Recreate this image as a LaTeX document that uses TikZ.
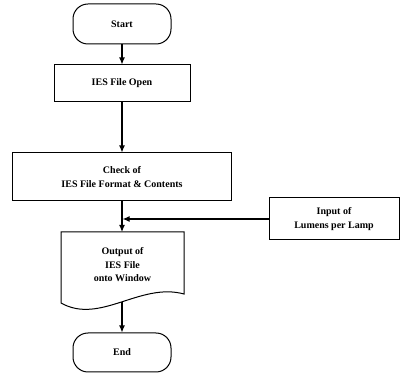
\documentclass[tikz,border=0pt]{standalone}
\usepackage{fontspec}
\setmainfont{Liberation Serif}
\usetikzlibrary{arrows.meta}
\begin{document}
\begin{tikzpicture}[x=1pt,y=-1pt,
  every node/.style={font=\fontsize{10}{13.5}\selectfont\bfseries, align=center, inner sep=0pt},
  term/.style={draw, line width=1pt, rounded corners=15pt, minimum width=98pt, minimum height=40pt},
  proc/.style={draw, line width=1pt},
  docshape/.style={draw, line width=1pt},
  flow/.style={line width=1.2pt, -{Latex[length=7pt,width=6pt]}}]
\useasboundingbox (0,0) rectangle (400,374);

% terminals and process boxes
\node[term] (start) at (122,24) {Start};
\node[proc, minimum width=136pt, minimum height=37pt] (open) at (122,83.5) {IES File Open};
\node[proc, minimum width=219pt, minimum height=48pt] (check) at (122,177) {Check of\\IES File Format \& Contents};
\node[proc, minimum width=130pt, minimum height=42pt] (input) at (334,219) {Input of\\Lumens per Lamp};

% document symbol with wavy lower edge
\draw[docshape] (61,232) -- (184,232) -- (184,294)
  .. controls (140,282) and (100,325) .. (61,303) -- cycle;
\node (doc) at (122.5,265) {Output of\\IES File\\onto Window};
\coordinate (doctop) at (122,232);
\coordinate (docbot) at (122,302);
\coordinate (join) at (122.6,219);

\node[term, minimum height=39pt] (end) at (122,352.5) {End};

% connectors
\draw[flow] (start) -- (open);
\draw[flow] (open) -- (check);
\draw[flow] (check) -- (doctop);
\draw[flow] (input) -- (join);
\draw[flow] (docbot) -- (end);
\end{tikzpicture}
\end{document}
